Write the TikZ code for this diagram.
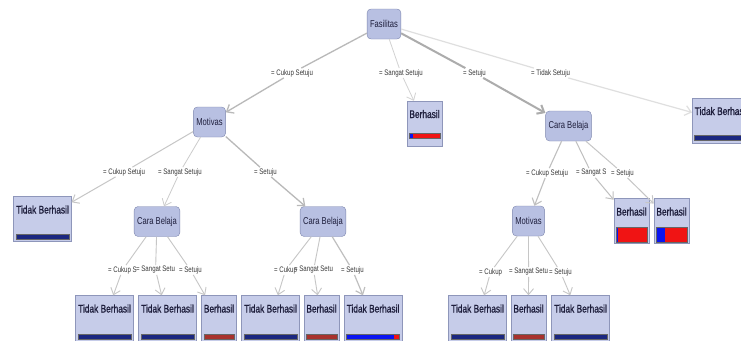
\documentclass[tikz,border=0pt]{standalone}
\usepackage{fontspec}
\setmainfont{Liberation Sans}[FakeStretch=0.76]
\newfontfamily\leaffont{Liberation Sans}[FakeStretch=0.76, FakeBold=1]
\usetikzlibrary{arrows.meta,calc}

\definecolor{innerfill}{HTML}{B8C0E2}
\definecolor{innerline}{HTML}{7D86AE}
\definecolor{leaffill}{HTML}{C6CCE9}
\definecolor{leafline}{HTML}{8E96BA}
\definecolor{txt}{HTML}{1E1E3C}
\definecolor{labtxt}{HTML}{383838}
\definecolor{navy}{HTML}{1B2780}
\definecolor{darkred}{HTML}{A8322D}
\definecolor{barblue}{HTML}{0A14F0}
\definecolor{barred}{HTML}{F01414}

% bar at the foot of a leaf: node, lift, height, colour
\newcommand{\purebar}[4]{%
  \draw[draw=black!60, fill=#4] ($(#1.south west)+(2.5,-#2)$) rectangle ($(#1.south east)+(-2.5,-#2-#3)$);
}
% mixed bar: node, lift, height, blue share
\newcommand{\mixbar}[4]{%
  \coordinate (bl) at ($(#1.south west)+(2.5,-#2)$);
  \coordinate (tr) at ($(#1.south east)+(-2.5,-#2-#3)$);
  \coordinate (md) at ($(bl)!#4!(tr)$);
  \fill[barred] (bl) rectangle (tr);
  \fill[barblue] (bl) rectangle (md |- tr);
  \draw[black!60] (bl) rectangle (tr);
}

\begin{document}
\begin{tikzpicture}[x=1pt,y=-1pt,
    inner/.style={draw=innerline, fill=innerfill, rounded corners=4pt, text=txt,
      font=\fontsize{10}{12}\selectfont, inner xsep=3pt, minimum height=30pt},
    leaf/.style={draw=leafline, fill=leaffill, text=txt, font=\leaffont\fontsize{11}{13}\selectfont,
      inner xsep=2.5pt, inner ysep=2pt, text height=15pt, text depth=26pt},
    cond/.style={font=\fontsize{8}{9}\selectfont, text=labtxt, inner sep=1pt, anchor=west},
    tip/.style={-{Straight Barb[length=6pt,width=10pt]}}
  ]
  \useasboundingbox (0,0) rectangle (741,340);
  \fill[white] (0,0) rectangle (741,340);
  \clip (0,0) rectangle (741,340);

  % inner nodes
  \node[inner] (fas) at (384,24) {Fasilitas};
  \node[inner] (mot1) at (209.5,122) {Motivas};
  \node[inner] (cb1) at (568.5,126) {Cara Belaja};
  \node[inner] (cb2) at (157,221.5) {Cara Belaja};
  \node[inner] (cb3) at (323,221.5) {Cara Belaja};
  \node[inner] (mot2) at (528.5,221) {Motivas};

  % leaves
  \node[leaf] (b1) at (424.5,123.5) {Berhasil};
  \node[leaf, anchor=west] (tb0) at (692,120.5) {Tidak Berhasil};
  \node[leaf] (tbl) at (42.5,219) {Tidak Berhasil};
  \node[leaf] (b2) at (631.5,221) {Berhasil};
  \node[leaf] (b3) at (671.5,221) {Berhasil};
  \node[leaf, text depth=29pt] (t1) at (104.5,319.5) {Tidak Berhasil};
  \node[leaf, text depth=29pt] (t2) at (167.5,319.5) {Tidak Berhasil};
  \node[leaf, text depth=29pt] (b4) at (219,319.5) {Berhasil};
  \node[leaf, text depth=29pt] (t3) at (270.5,319.5) {Tidak Berhasil};
  \node[leaf, text depth=29pt] (b5) at (321.5,319.5) {Berhasil};
  \node[leaf, text depth=29pt] (t4) at (373,319.5) {Tidak Berhasil};
  \node[leaf, text depth=29pt] (t5) at (477.5,319.5) {Tidak Berhasil};
  \node[leaf, text depth=29pt] (b6) at (528.5,319.5) {Berhasil};
  \node[leaf, text depth=29pt] (t6) at (580.5,319.5) {Tidak Berhasil};

  \mixbar{b1}{8}{5}{0.12}
  \purebar{tb0}{3}{5}{navy}
  \purebar{tbl}{3}{5}{navy}
  \mixbar{b2}{2}{15}{0.06}
  \mixbar{b3}{2}{15}{0.28}
  \foreach \n in {t1,t2,t3,t5,t6} \purebar{\n}{5}{5}{navy};
  \foreach \n in {b4,b5,b6} \purebar{\n}{5}{5}{darkred};
  \mixbar{t4}{5}{5}{0.9}

  % conditions
  \node[cond] (c1) at (270,73) {= Cukup Setuju};
  \node[cond] (c2) at (378,73) {= Sangat Setuju};
  \node[cond] (c3) at (462,73) {= Setuju};
  \node[cond] (c4) at (530,73) {= Tidak Setuju};
  \node[cond] (c5) at (102,172) {= Cukup Setuju};
  \node[cond] (c6) at (157,172) {= Sangat Setuju};
  \node[cond] (c7) at (253,172) {= Setuju};
  \node[cond] (c8) at (525,173) {= Cukup Setuju};
  \node[cond] (c9) at (575,173) {= Sangat S};
  \node[cond] (c10) at (610,173) {= Setuju};
  \node[cond] (c11) at (107,270) {= Cukup S};
  \node[cond] (c12) at (135,270) {= Sangat Setu};
  \node[cond] (c13) at (178,270) {= Setuju};
  \node[cond] (c14) at (273,270) {= Cukup};
  \node[cond] (c15) at (293,270) {= Sangat Setu};
  \node[cond] (c16) at (340,270) {= Setuju};
  \node[cond] (c17) at (478,272) {= Cukup};
  \node[cond] (c18) at (508,272) {= Sangat Setu};
  \node[cond] (c19) at (548,272) {= Setuju};

  % branches: parent / condition / child / width / grey
  \foreach \p/\c/\k/\w/\g in {fas/c1/mot1/1.3/55, fas/c2/b1/0.8/35, fas/c3/cb1/2/65, fas/c4/tb0/1.2/25,
      mot1/c5/tbl/1/45, mot1/c6/cb2/0.8/40, mot1/c7/cb3/1.3/55,
      cb1/c8/mot2/1.1/50, cb1/c9/b2/1/50, cb1/c10/b3/1/45,
      cb2/c11/t1/0.9/45, cb2/c12/t2/0.9/45, cb2/c13/b4/0.9/45,
      cb3/c14/t3/0.9/45, cb3/c15/b5/0.9/45, cb3/c16/t4/1.2/50,
      mot2/c17/t5/0.9/45, mot2/c18/b6/0.9/45, mot2/c19/t6/0.9/45}
  {
    \draw[draw=gray!\g, line width=\w pt] (\p) -- (\c);
    \draw[draw=gray!\g, line width=\w pt, tip] (\c) -- (\k);
  }
\end{tikzpicture}
\end{document}
